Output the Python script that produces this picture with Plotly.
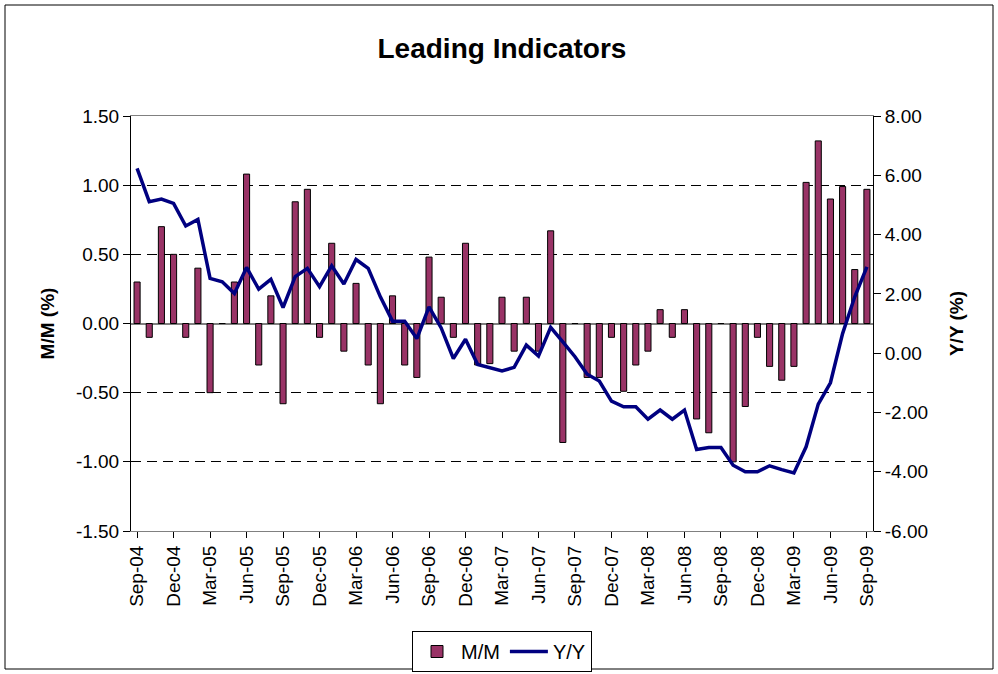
import plotly.graph_objects as go

months = ["Sep-04","Oct-04","Nov-04","Dec-04","Jan-05","Feb-05","Mar-05","Apr-05","May-05","Jun-05",
          "Jul-05","Aug-05","Sep-05","Oct-05","Nov-05","Dec-05","Jan-06","Feb-06","Mar-06","Apr-06",
          "May-06","Jun-06","Jul-06","Aug-06","Sep-06","Oct-06","Nov-06","Dec-06","Jan-07","Feb-07",
          "Mar-07","Apr-07","May-07","Jun-07","Jul-07","Aug-07","Sep-07","Oct-07","Nov-07","Dec-07",
          "Jan-08","Feb-08","Mar-08","Apr-08","May-08","Jun-08","Jul-08","Aug-08","Sep-08","Oct-08",
          "Nov-08","Dec-08","Jan-09","Feb-09","Mar-09","Apr-09","May-09","Jun-09","Jul-09","Aug-09",
          "Sep-09"]

mm = [0.30,-0.10,0.70,0.50,-0.10,0.40,-0.50,0.00,0.30,1.08,
      -0.30,0.20,-0.58,0.88,0.97,-0.10,0.58,-0.20,0.29,-0.30,
      -0.58,0.20,-0.30,-0.39,0.48,0.19,-0.10,0.58,-0.30,-0.29,
      0.19,-0.20,0.19,-0.20,0.67,-0.86,0.00,-0.39,-0.39,-0.10,
      -0.49,-0.30,-0.20,0.10,-0.10,0.10,-0.69,-0.79,0.00,-1.00,
      -0.60,-0.10,-0.31,-0.41,-0.31,1.02,1.32,0.90,0.99,0.39,
      0.97]

yy = [6.23,5.11,5.20,5.05,4.29,4.51,2.52,2.41,2.01,2.89,
      2.16,2.49,1.54,2.58,2.86,2.24,2.95,2.33,3.16,2.86,
      1.90,1.08,1.08,0.49,1.56,0.85,-0.18,0.47,-0.38,-0.49,
      -0.60,-0.48,0.27,-0.10,0.87,0.38,-0.12,-0.71,-0.94,-1.62,
      -1.81,-1.81,-2.23,-1.92,-2.23,-1.92,-3.25,-3.18,-3.18,-3.78,
      -4.00,-4.00,-3.80,-3.93,-4.04,-3.16,-1.72,-1.00,0.66,1.90,
      2.91]

x_ticks = months[::3]
left_vals = [-1.5,-1.0,-0.5,0.0,0.5,1.0,1.5]
left_text = ["-1.50","-1.00","-0.50","0.00","0.50","1.00","1.50"]
right_vals = [-6,-4,-2,0,2,4,6,8]
right_text = ["-6.00","-4.00","-2.00","0.00","2.00","4.00","6.00","8.00"]

FONT = "Liberation Sans, Arial, sans-serif"

fig = go.Figure()
fig.add_trace(go.Bar(x=months, y=mm, name="M/M", width=0.5,
                     marker=dict(color="#993366", line=dict(color="black", width=1))))
fig.add_trace(go.Scatter(x=months, y=yy, name="Y/Y", mode="lines", yaxis="y2",
                         line=dict(color="#000080", width=3.5)))

W, H = 998, 674
L, R, T, B = 131, 125, 116, 143
pw, ph = W - L - R, H - T - B

def px_x(x):
    return (x - L) / pw

def px_y(y):
    return (H - B - y) / ph

fig.update_layout(
    width=W, height=H,
    margin=dict(l=L, r=R, t=T, b=B, autoexpand=False),
    paper_bgcolor="white", plot_bgcolor="white",
    font=dict(family=FONT, size=19, color="black"),
    title=dict(text="<b>Leading Indicators</b>", x=0.503, xanchor="center",
               y=1 - 48 / H, yanchor="middle", font=dict(size=28)),
    showlegend=True,
    legend=dict(orientation="h", x=0.5, xanchor="center", y=px_y(631), yanchor="top",
                bordercolor="black", borderwidth=1, font=dict(size=20),
                itemwidth=38, tracegroupgap=0),
    bargap=0.5,
    xaxis=dict(type="category", categoryorder="array", categoryarray=months,
               range=[-0.5, len(months) - 0.5], automargin=False,
               tickmode="array", tickvals=x_ticks, ticktext=x_ticks, tickangle=-90,
               showgrid=False, showline=True, linecolor="#808080", linewidth=1, mirror=True,
               ticks="outside", ticklen=6, tickcolor="black", tickfont=dict(size=19)),
    yaxis=dict(range=[-1.5, 1.5], tickmode="array", tickvals=left_vals, ticktext=left_text,
               automargin=False,
               showgrid=True, gridcolor="black", griddash="10px,6px", gridwidth=1,
               zeroline=True, zerolinecolor="#808080", zerolinewidth=1.5,
               showline=True, linecolor="black", linewidth=1,
               ticks="outside", ticklen=7, tickcolor="black", tickfont=dict(size=19),
               title=dict(text="<b>M/M (%)</b>", font=dict(size=19), standoff=16)),
    yaxis2=dict(range=[-6, 8], overlaying="y", side="right", tickmode="array",
                tickvals=right_vals, ticktext=right_text, automargin=False,
                showgrid=False, zeroline=False,
                showline=True, linecolor="black", linewidth=1,
                ticks="outside", ticklen=7, tickcolor="black", tickfont=dict(size=19),
                title=dict(text="<b>Y/Y (%)</b>", font=dict(size=19), standoff=22)),
    shapes=[dict(type="rect", xref="paper", yref="paper",
                 x0=px_x(5), x1=px_x(993), y0=px_y(669), y1=px_y(5),
                 line=dict(color="black", width=1), fillcolor="rgba(0,0,0,0)", layer="below")],
)

fig.write_html("out.html", config={"displayModeBar": False},
               post_script="document.body.style.margin='0px';")
